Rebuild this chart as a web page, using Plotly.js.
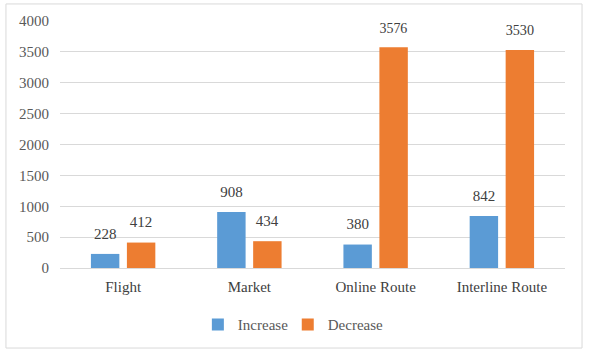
<!DOCTYPE html>
<html>
<head>
<meta charset="utf-8">
<script src="https://cdn.plot.ly/plotly-3.0.1.min.js"></script>
<style>
html,body{margin:0;padding:0;background:#fff;}
#chart{width:590px;height:356px;}
#chart svg text{font-family:'Liberation Serif','Times New Roman',serif !important;}
</style>
</head>
<body>
<div id="chart"></div>
<script>
const categories = ["Flight", "Market", "Online Route", "Interline Route"];
const increaseValues = [228, 908, 380, 842];
const decreaseValues = [412, 434, 3576, 3530];
const seriesNames = ["Increase", "Decrease"];
const yTicks = [0, 500, 1000, 1500, 2000, 2500, 3000, 3500, 4000];

const font = "Liberation Serif";
const common = {
  type: "bar",
  x: categories,
  texttemplate: "<span style='font-size:15px'>%{y}</span><br> ",
  textposition: "outside",
  cliponaxis: false,
  textfont: {family: font, size: 8, color: "#404040"},
  hoverinfo: "none"
};
const data = [
  Object.assign({}, common, {name: seriesNames[0], y: increaseValues, marker: {color: "#5B9BD5"}, legend: "legend"}),
  Object.assign({}, common, {name: seriesNames[1], y: decreaseValues, marker: {color: "#ED7D31"}, legend: "legend2"})
];

const legendBase = {orientation: "h", y: -0.23, yanchor: "middle", xanchor: "left",
  font: {family: font, size: 15, color: "#595959"}, itemwidth: 30, bgcolor: "rgba(0,0,0,0)"};

const layout = {
  width: 590, height: 356,
  margin: {l: 60, r: 25, t: 21, b: 88},
  paper_bgcolor: "#ffffff",
  plot_bgcolor: "#ffffff",
  font: {family: font, size: 14, color: "#595959"},
  barmode: "group",
  bargap: 0.43,
  bargroupgap: 0.21,
  showlegend: true,
  legend: Object.assign({}, legendBase, {x: 0.273}),
  legend2: Object.assign({}, legendBase, {x: 0.451}),
  xaxis: {showgrid: false, showline: false, ticks: "", ticklabelstandoff: 8,
          tickfont: {family: font, size: 15, color: "#404040"}},
  yaxis: {range: [0, 4000], tickvals: yTicks, showgrid: true, gridcolor: "#d9d9d9",
          zeroline: true, zerolinecolor: "#d9d9d9", showline: false, ticks: "",
          ticklabelstandoff: 10, tickfont: {family: font, size: 15, color: "#595959"}},
  shapes: [{type: "rect", xref: "paper", yref: "paper",
            x0: -0.107, x1: 1.0337, y0: -0.324, y1: 1.069,
            line: {color: "#d9d9d9", width: 1}, fillcolor: "rgba(0,0,0,0)", layer: "below"}]
};
Plotly.newPlot("chart", data, layout, {staticPlot: true, displayModeBar: false});
</script>
</body>
</html>
